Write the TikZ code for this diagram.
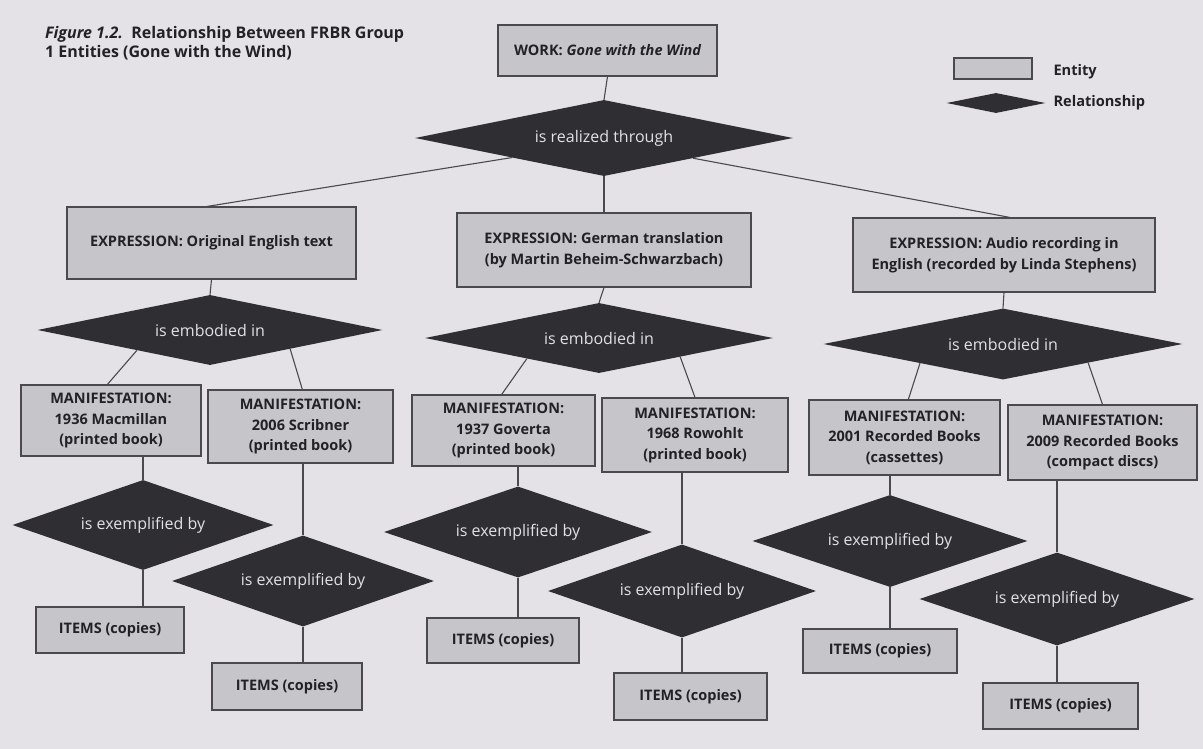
\documentclass[tikz,border=0pt]{standalone}
\usepackage{fontspec}
\setmainfont{Open Sans}
\usetikzlibrary{shapes.geometric,calc}
\definecolor{pagebg}{HTML}{E4E2E7}
\definecolor{entfill}{HTML}{C6C5CA}
\definecolor{entline}{HTML}{4A4A4E}
\definecolor{relfill}{HTML}{2F2F33}
\definecolor{reltext}{HTML}{E2E2E6}
\definecolor{inktext}{HTML}{222226}
\tikzset{
  entity/.style={draw=entline, fill=entfill, line width=1.1pt, rectangle, inner sep=0pt,
    align=center, text=inktext, font=\fontsize{14.5}{20.5}\selectfont\bfseries},
  relation/.style={diamond, aspect=5, fill=relfill, inner sep=0pt, text=reltext,
    font=\fontsize{16}{18}\selectfont},
  link/.style={draw=entline, line width=1.1pt},
  legendtext/.style={anchor=west, text=inktext, font=\fontsize{14.6}{17}\selectfont\bfseries}
}
\begin{document}
\begin{tikzpicture}[x=1pt,y=-1pt]
\fill[pagebg] (0,0) rectangle (1203,749);
\useasboundingbox (0,0) rectangle (1203,749);

% title
\node[anchor=north west, align=left, text=inktext, font=\fontsize{16}{19.5}\selectfont\bfseries, inner sep=0pt] (title) at (45,26)
  {\itshape Figure 1.2.\upshape\ \ Relationship Between FRBR Group\\1 Entities (Gone with the Wind)};

% legend
\node[entity, minimum width=78, minimum height=21] (legent) at (993,68.5) {};
\node[legendtext] (legenttxt) at (1050,72) {Entity};
\node[relation, minimum width=99, minimum height=20] (legrel) at (996,103) {};
\node[legendtext] (legreltxt) at (1050,103) {Relationship};

% work
\node[entity, minimum width=219, minimum height=51] (work) at (607.5,50.5) {WORK: \itshape Gone with the Wind};
\node[relation, minimum width=378, minimum height=76] (r1) at (604,138) {is realized through};

% expressions
\node[entity, minimum width=289, minimum height=72] (e1) at (211.5,243) {EXPRESSION: Original English text};
\node[entity, minimum width=294, minimum height=74] (e2) at (604,250) {EXPRESSION: German translation\\(by Martin Beheim-Schwarzbach)};
\node[entity, minimum width=302, minimum height=74] (e3) at (1004,255) {EXPRESSION: Audio recording in\\English (recorded by Linda Stephens)};

% embodied relations
\node[relation, minimum width=345, minimum height=70] (d1) at (210,330) {is embodied in};
\node[relation, minimum width=348, minimum height=70] (d2) at (599,338) {is embodied in};
\node[relation, minimum width=359, minimum height=71] (d3) at (1003,344) {is embodied in};

% manifestations
\node[entity, minimum width=180, minimum height=71] (m1) at (111,420.5) {MANIFESTATION:\\1936 Macmillan\\(printed book)};
\node[entity, minimum width=185, minimum height=73] (m2) at (300.5,426.5) {MANIFESTATION:\\2006 Scribner\\(printed book)};
\node[entity, minimum width=183, minimum height=71] (m3) at (503.5,430.5) {MANIFESTATION:\\1937 Goverta\\(printed book)};
\node[entity, minimum width=186, minimum height=74] (m4) at (695,435) {MANIFESTATION:\\1968 Rowohlt\\(printed book)};
\node[entity, minimum width=191, minimum height=75] (m5) at (904.5,437.5) {MANIFESTATION:\\2001 Recorded Books\\(cassettes)};
\node[entity, minimum width=189, minimum height=75] (m6) at (1102.5,442.5) {MANIFESTATION:\\2009 Recorded Books\\(compact discs)};

% exemplified relations
\node[relation, minimum width=261, minimum height=90] (x1) at (143,525) {is exemplified by};
\node[relation, minimum width=262, minimum height=91] (x2) at (303,581) {is exemplified by};
\node[relation, minimum width=268, minimum height=91] (x3) at (518,532) {is exemplified by};
\node[relation, minimum width=268, minimum height=93] (x4) at (682,591) {is exemplified by};
\node[relation, minimum width=275, minimum height=92] (x5) at (890,541) {is exemplified by};
\node[relation, minimum width=275, minimum height=93] (x6) at (1057,599) {is exemplified by};

% items
\node[entity, minimum width=148, minimum height=46] (i1) at (110,630) {ITEMS (copies)};
\node[entity, minimum width=150, minimum height=47] (i2) at (287,686.5) {ITEMS (copies)};
\node[entity, minimum width=152, minimum height=45] (i3) at (503,640.5) {ITEMS (copies)};
\node[entity, minimum width=153, minimum height=47] (i4) at (690.5,696.5) {ITEMS (copies)};
\node[entity, minimum width=154, minimum height=44] (i5) at (880,651) {ITEMS (copies)};
\node[entity, minimum width=155, minimum height=46] (i6) at (1060.5,706) {ITEMS (copies)};

% connectors: work level
\draw[link] (work.south) -- (r1.north);
\draw[link] ($(r1.west)!0.513!(r1.south)$) -- ($(e1.north west)!0.484!(e1.north east)$);
\draw[link] (r1.south) -- (e2.north);
\draw[link] ($(r1.south)!0.471!(r1.east)$) -- ($(e3.north west)!0.52!(e3.north east)$);

% expression to embodied
\draw[link] (e1.south) -- (d1.north);
\draw[link] (e2.south) -- (d2.north);
\draw[link] (e3.south) -- (d3.north);

% embodied to manifestations
\draw[link] ($(d1.west)!0.577!(d1.south)$) -- ($(m1.north west)!0.48!(m1.north east)$);
\draw[link] ($(d1.south)!0.464!(d1.east)$) -- ($(m2.north west)!0.51!(m2.north east)$);
\draw[link] ($(d2.west)!0.586!(d2.south)$) -- ($(m3.north west)!0.49!(m3.north east)$);
\draw[link] ($(d2.south)!0.466!(d2.east)$) -- ($(m4.north west)!0.5!(m4.north east)$);
\draw[link] ($(d3.west)!0.538!(d3.south)$) -- ($(m5.north west)!0.52!(m5.north east)$);
\draw[link] ($(d3.south)!0.474!(d3.east)$) -- ($(m6.north west)!0.5!(m6.north east)$);

% manifestations to exemplified
\draw[link] (x1.north |- m1.south) -- (x1.north);
\draw[link] (x2.north |- m2.south) -- (x2.north);
\draw[link] (x3.north |- m3.south) -- (x3.north);
\draw[link] (x4.north |- m4.south) -- (x4.north);
\draw[link] (x5.north |- m5.south) -- (x5.north);
\draw[link] (x6.north |- m6.south) -- (x6.north);

% exemplified to items
\draw[link] (x1.south) -- (x1.south |- i1.north);
\draw[link] (x2.south) -- (x2.south |- i2.north);
\draw[link] (x3.south) -- (x3.south |- i3.north);
\draw[link] (x4.south) -- (x4.south |- i4.north);
\draw[link] (x5.south) -- (x5.south |- i5.north);
\draw[link] (x6.south) -- (x6.south |- i6.north);
\end{tikzpicture}
\end{document}
